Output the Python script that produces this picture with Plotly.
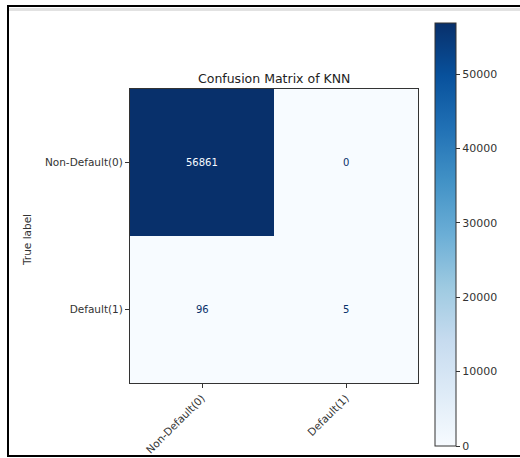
import plotly.graph_objects as go

# Confusion matrix counts (rows: true label, columns: predicted label)
class_labels = ["Non-Default(0)", "Default(1)"]
counts = [[56861, 0],
          [96, 5]]
colorbar_ticks = [0, 10000, 20000, 30000, 40000, 50000]

# matplotlib "Blues" colormap
blues = [
    [0.0, "#f7fbff"], [0.125, "#deebf7"], [0.25, "#c6dbef"],
    [0.375, "#9ecae1"], [0.5, "#6baed6"], [0.625, "#4292c6"],
    [0.75, "#2171b5"], [0.875, "#08519c"], [1.0, "#08306b"],
]

W, H = 520, 458
L, R, T, B = 130, 102, 89, 75
pw, ph = W - L - R, H - T - B


def px_x(x):
    return (x - L) / pw


def px_y(y):
    return (H - B - y) / ph


font = "DejaVu Sans, Liberation Sans, sans-serif"
zmin = min(min(r) for r in counts)
zmax = max(max(r) for r in counts)
threshold = (zmax + zmin) / 2

fig = go.Figure(go.Heatmap(
    z=counts, x=class_labels, y=class_labels,
    colorscale=blues, zmin=zmin, zmax=zmax,
    showscale=True,
    colorbar=dict(
        thickness=21, thicknessmode="pixels",
        len=423, lenmode="pixels",
        x=px_x(435), xanchor="left", xpad=0,
        y=px_y(23), yanchor="top", ypad=0,
        outlinecolor="#333", outlinewidth=1,
        tickvals=colorbar_ticks,
        ticktext=[str(t) for t in colorbar_ticks],
        ticks="outside", ticklen=4, tickcolor="#333",
        tickfont=dict(family=font, size=11, color="#333"),
    ),
    hoverinfo="skip",
))

annotations = []
for i, row in enumerate(counts):
    for j, v in enumerate(row):
        annotations.append(dict(
            x=class_labels[j], y=class_labels[i], text=str(v),
            showarrow=False,
            font=dict(family=font, size=10,
                      color="#f7fbff" if v > threshold else "#08306b"),
        ))

annotations.append(dict(
    x=0.5, y=px_y(78), xref="paper", yref="paper",
    text="Confusion Matrix of KNN", showarrow=False,
    xanchor="center", yanchor="middle",
    font=dict(family=font, size=12.5, color="#222"),
))
annotations.append(dict(
    x=px_x(27), y=px_y(240), xref="paper", yref="paper",
    text="True label", showarrow=False, textangle=-90,
    xanchor="center", yanchor="middle",
    font=dict(family=font, size=10.5, color="#333"),
))

frame = dict(color="black", width=2)
fig.update_layout(
    width=W, height=H,
    margin=dict(l=L, r=R, t=T, b=B, autoexpand=False),
    paper_bgcolor="white", plot_bgcolor="white",
    annotations=annotations,
    shapes=[
        # outer frame around the figure (top, left, bottom edges)
        dict(type="line", xref="paper", yref="paper",
             x0=px_x(7), x1=px_x(W + 5), y0=px_y(6), y1=px_y(6),
             line=frame, layer="above"),
        dict(type="line", xref="paper", yref="paper",
             x0=px_x(8), x1=px_x(8), y0=px_y(6), y1=px_y(456),
             line=frame, layer="above"),
        dict(type="line", xref="paper", yref="paper",
             x0=px_x(7), x1=px_x(W + 5), y0=px_y(456), y1=px_y(456),
             line=frame, layer="above"),
        dict(type="line", xref="paper", yref="paper",
             x0=px_x(9), x1=px_x(W + 5), y0=px_y(9.5), y1=px_y(9.5),
             line=dict(color="#e2e2e2", width=3)),
    ],
    xaxis=dict(
        type="category", tickangle=-45, ticks="outside", ticklen=4,
        tickcolor="#333", showgrid=False, zeroline=False, automargin=False,
        showline=True, linecolor="#333", linewidth=1, mirror=True,
        tickfont=dict(family=font, size=10.5, color="#333"),
    ),
    yaxis=dict(
        type="category", autorange="reversed", ticks="outside", ticklen=4,
        tickcolor="#333", showgrid=False, zeroline=False, automargin=False,
        showline=True, linecolor="#333", linewidth=1, mirror=True,
        tickfont=dict(family=font, size=10.5, color="#333"),
    ),
)

fig.write_html("out.html")
